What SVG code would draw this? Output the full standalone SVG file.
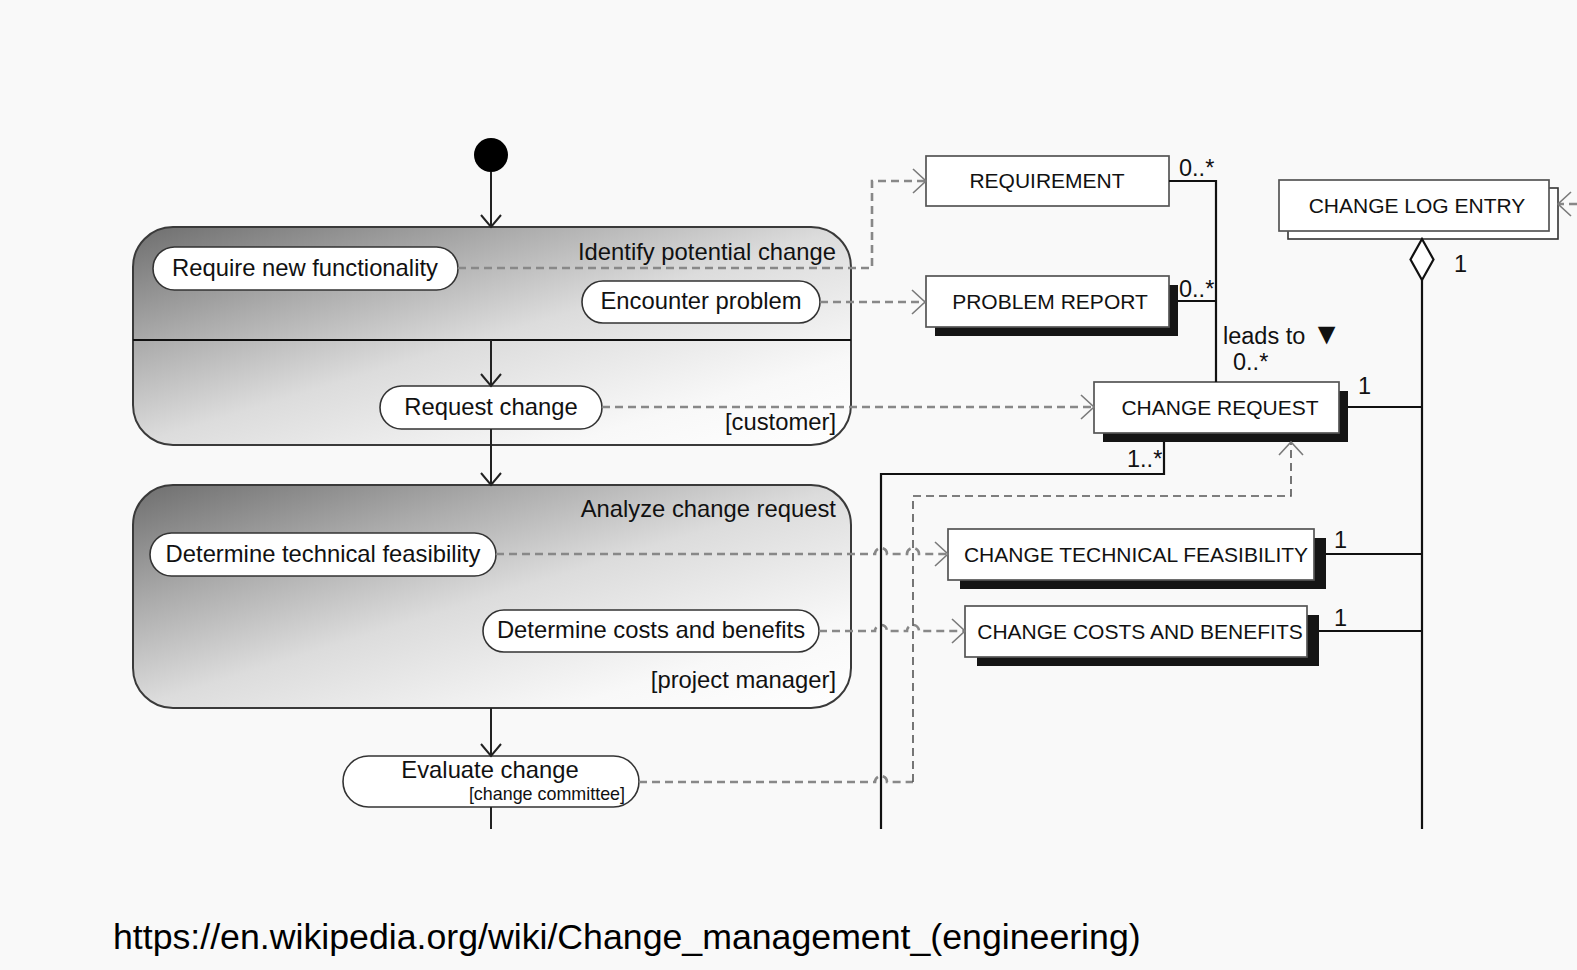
<svg xmlns="http://www.w3.org/2000/svg" width="1577" height="970" viewBox="0 0 1577 970">
<defs>
<linearGradient id="g" x1="0" y1="0" x2="1" y2="1">
<stop offset="0" stop-color="#6e6e6e"/>
<stop offset="0.27" stop-color="#ababab"/>
<stop offset="0.5" stop-color="#dcdcdc"/>
<stop offset="0.8" stop-color="#f8f8f8"/>
<stop offset="1" stop-color="#ffffff"/>
</linearGradient>
<marker id="open" viewBox="-16 -14 18 28" refX="0" refY="0" markerWidth="18" markerHeight="28" markerUnits="userSpaceOnUse" orient="auto">
<path d="M-13,-12 L0,0 L-13,12" fill="none" stroke="#7a7a7a" stroke-width="1.6"/>
</marker>
<marker id="fl" viewBox="-15 -12 17 24" refX="0" refY="0" markerWidth="17" markerHeight="24" markerUnits="userSpaceOnUse" orient="auto">
<path d="M-12,-10 L0,0 L-12,10" fill="none" stroke="#222" stroke-width="2"/>
</marker>
</defs>
<style>
.grp{fill:url(#g);stroke:#3a3a3a;stroke-width:2}
.act{fill:#fff;stroke:#333;stroke-width:1.6}
.cls{fill:#fff;stroke:#555;stroke-width:1.7}
.back{fill:#fff;stroke:#333;stroke-width:1.6}
.shd{fill:#151515}
.t{font-family:"Liberation Sans",Arial,sans-serif;fill:#111}
.a{font-size:23.8px}
.c{font-size:21px}
.m{font-size:23.5px}
.mid{text-anchor:middle}
.end{text-anchor:end}
.flow{stroke:#222;stroke-width:2;fill:none}
.dep{stroke:#888;stroke-width:2.6;fill:none;stroke-dasharray:8 5}
.dep2{stroke:#555;stroke-width:1.6;fill:none;stroke-dasharray:8 5}
.asc{stroke:#111;stroke-width:2.2;fill:none}
</style>
<rect x="0" y="0" width="1577" height="970" fill="#f9f9f9"/>

<g id="initial">
<circle cx="491" cy="155" r="17" fill="#000"/>
</g>

<g id="identify-potential-change">
<rect class="grp" x="133" y="227" width="718" height="218" rx="40" ry="40"/>
<line x1="133" y1="340" x2="851" y2="340" stroke="#111" stroke-width="2"/>
<text class="t a end" x="836" y="260">Identify potential change</text>
<text class="t a end" x="836" y="430">[customer]</text>
</g>

<g id="require-new-functionality">
<rect class="act" x="153" y="247" width="305" height="43" rx="21.5"/>
<text class="t a mid" x="305" y="276">Require new functionality</text>
</g>
<g id="encounter-problem">
<rect class="act" x="582" y="281" width="238" height="42" rx="21"/>
<text class="t a mid" x="701" y="309">Encounter problem</text>
</g>
<g id="request-change">
<rect class="act" x="380" y="386" width="222" height="43" rx="21.5"/>
<text class="t a mid" x="491" y="415">Request change</text>
</g>

<g id="analyze-change-request">
<rect class="grp" x="133" y="485" width="718" height="223" rx="40" ry="40"/>
<text class="t a end" x="836" y="517">Analyze change request</text>
<text class="t a end" x="836" y="688">[project manager]</text>
</g>
<g id="determine-technical-feasibility">
<rect class="act" x="150" y="533" width="346" height="43" rx="21.5"/>
<text class="t a mid" x="323" y="562">Determine technical feasibility</text>
</g>
<g id="determine-costs-and-benefits">
<rect class="act" x="483" y="610" width="336" height="42" rx="21"/>
<text class="t a mid" x="651" y="638">Determine costs and benefits</text>
</g>
<g id="evaluate-change">
<rect class="act" x="343" y="756" width="296" height="51" rx="25.5"/>
<text class="t a mid" x="490" y="778">Evaluate change</text>
<text class="t end" x="625" y="800" style="font-size:17.9px">[change committee]</text>
</g>

<g id="requirement">
<rect class="cls" x="926" y="156" width="243" height="50"/>
<text class="t c mid" x="1047" y="188">REQUIREMENT</text>
</g>
<g id="problem-report">
<rect class="shd" x="935" y="285" width="243" height="51"/>
<rect class="cls" x="926" y="276" width="243" height="51"/>
<text class="t c mid" x="1050" y="309">PROBLEM REPORT</text>
</g>
<g id="change-request">
<rect class="shd" x="1103" y="391" width="245" height="51"/>
<rect class="cls" x="1094" y="382" width="245" height="51"/>
<text class="t c mid" x="1220" y="415">CHANGE REQUEST</text>
</g>
<g id="change-log-entry">
<rect class="back" x="1288" y="188" width="270" height="51"/>
<rect class="cls" x="1279" y="180" width="270" height="51"/>
<text class="t c mid" x="1417" y="213">CHANGE LOG ENTRY</text>
</g>
<g id="change-technical-feasibility">
<rect class="shd" x="960" y="538" width="366" height="51"/>
<rect class="cls" x="948" y="529" width="366" height="51"/>
<text class="t c mid" x="1136" y="562">CHANGE TECHNICAL FEASIBILITY</text>
</g>
<g id="change-costs-and-benefits">
<rect class="shd" x="977" y="615" width="342" height="51"/>
<rect class="cls" x="965" y="606" width="342" height="51"/>
<text class="t c mid" x="1140" y="639">CHANGE COSTS AND BENEFITS</text>
</g>

<g id="connectors">
<line class="flow" x1="491" y1="172" x2="491" y2="227" marker-end="url(#fl)"/>
<line class="flow" x1="491" y1="340" x2="491" y2="386" marker-end="url(#fl)"/>
<line class="flow" x1="491" y1="429" x2="491" y2="485" marker-end="url(#fl)"/>
<line class="flow" x1="491" y1="708" x2="491" y2="756" marker-end="url(#fl)"/>
<line class="flow" x1="491" y1="807" x2="491" y2="829"/>

<path class="dep" d="M458,268 H872 V181 H926" marker-end="url(#open)"/>
<path class="dep" d="M820,302 H925" marker-end="url(#open)"/>
<path class="dep" d="M602,407 H1094" marker-end="url(#open)"/>
<path class="dep" d="M496,554 H875 A6,6 0 0 1 887,554 H907 A6,6 0 0 1 919,554 H948" marker-end="url(#open)"/>
<path class="dep" d="M819,631 H875 A6,6 0 0 1 887,631 H907 A6,6 0 0 1 919,631 H965" marker-end="url(#open)"/>
<path class="dep" d="M639,782 H875 A6,6 0 0 1 887,782 H913"/>
<path class="dep2" d="M913,782 V496 H1291 V442" marker-end="url(#open)"/>
<path class="dep" d="M1577,204 H1558" marker-end="url(#open)"/>

<path class="asc" d="M1169,181 H1216 V382"/>
<path class="asc" d="M1178,301 H1216"/>
<path class="asc" d="M1348,407 H1422"/>
<path class="asc" d="M1326,554 H1422"/>
<path class="asc" d="M1319,631 H1422"/>
<path class="asc" d="M1422,280 V829"/>
<path class="asc" d="M1164,442 V474 H881 V829"/>
<polygon points="1422,239 1433.5,259.5 1422,280 1410.5,259.5" fill="#fff" stroke="#111" stroke-width="2.2"/>

<text class="t m" x="1179" y="176">0..*</text>
<text class="t m" x="1179" y="297">0..*</text>
<text class="t m" x="1223" y="344">leads to <tspan style="font-size:30px">▼</tspan></text>
<text class="t m" x="1233" y="370">0..*</text>
<text class="t m" x="1358" y="394">1</text>
<text class="t m" x="1127" y="467">1..*</text>
<text class="t m" x="1334" y="548">1</text>
<text class="t m" x="1334" y="626">1</text>
<text class="t m" x="1454" y="272">1</text>
</g>

<text x="113" y="949" style="font-family:'Liberation Sans',Arial,sans-serif;font-size:35.7px;fill:#000">https://en.wikipedia.org/wiki/Change_management_(engineering)</text>
</svg>
